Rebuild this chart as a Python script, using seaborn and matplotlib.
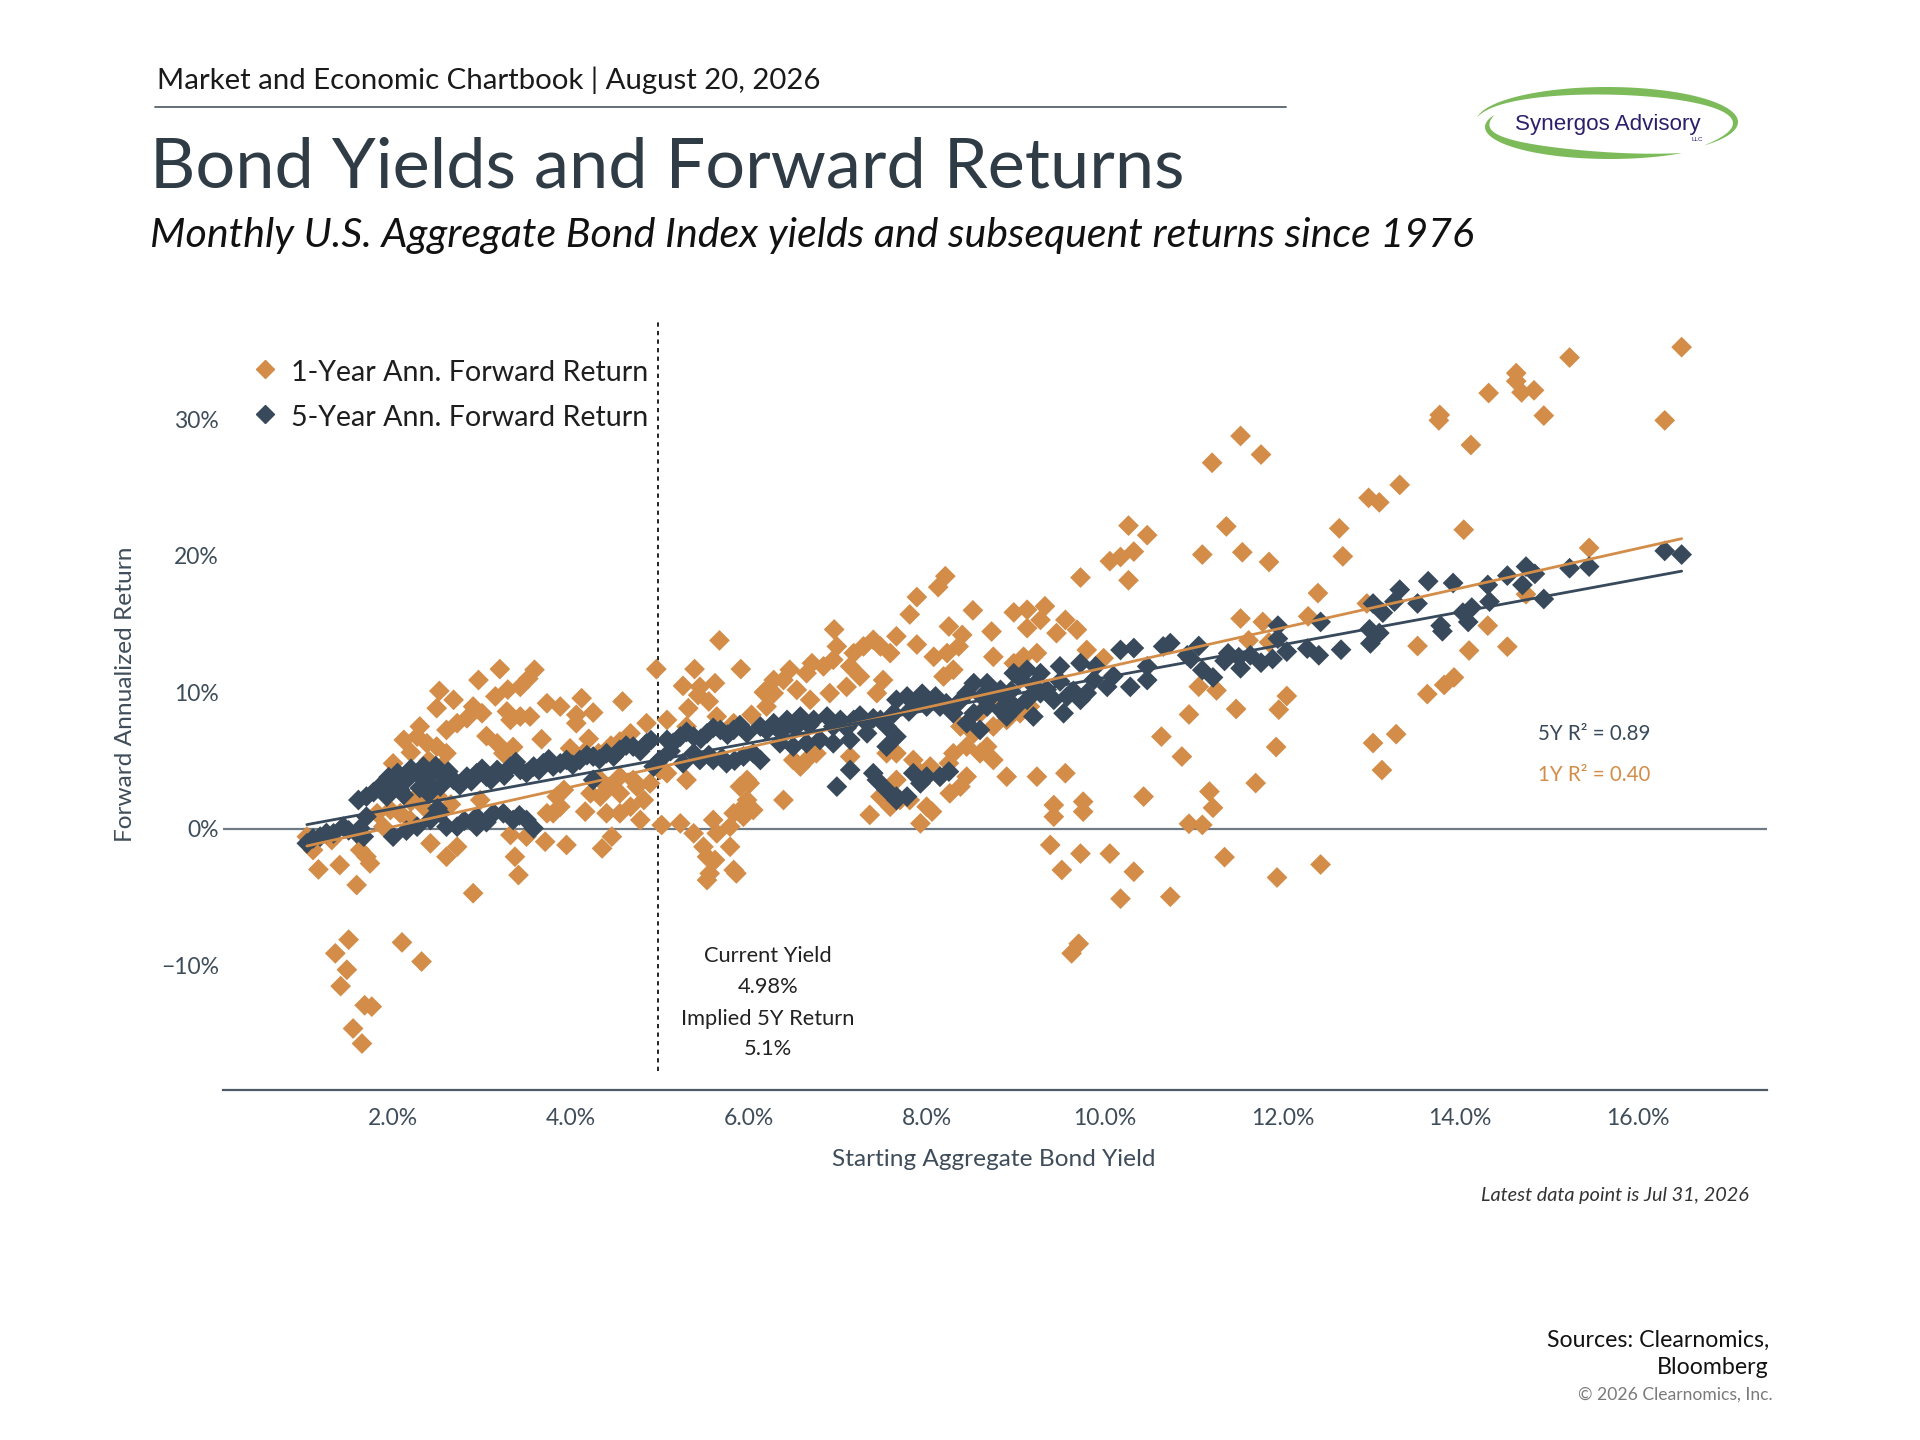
import numpy as np
import pandas as pd
import matplotlib
matplotlib.use("Agg")
import matplotlib.pyplot as plt
import seaborn as sns
from matplotlib.lines import Line2D
from matplotlib.patches import Polygon

# ---------------- DATA ----------------
series_labels = ["1-Year Ann. Forward Return", "5-Year Ann. Forward Return"]

# 1-year forward return, low-yield region (<6%)
yield_1y_a = [5.67, 4.96, 5.39, 5.91, 3.20, 3.59, 2.96, 3.52, 3.43, 3.29,
              2.52, 2.68, 3.15, 3.73, 3.88, 4.12, 4.58, 4.06, 4.25, 4.06,
              5.26, 5.45, 5.62, 5.43, 5.55, 5.32, 2.49, 2.90, 3.00, 2.83,
              2.72, 2.60, 3.28, 3.32, 3.43, 3.54, 2.30, 2.27, 2.12, 2.38,
              2.49, 2.60, 2.00, 3.17, 3.24, 3.67, 3.99, 4.14, 4.31, 4.55,
              4.67, 4.85, 5.08, 5.30, 5.64, 5.83, 6.03, 6.20, 6.17, 6.28,
              4.22, 4.33, 4.44, 4.55, 4.67, 4.74, 4.82, 4.40, 4.55, 4.78,
              4.33, 4.55, 4.70, 4.89, 4.16, 3.88, 3.80, 3.92, 2.98, 5.00,
              5.08, 5.30, 5.23, 5.02, 5.60, 5.38, 5.64, 5.79, 5.83, 5.94,
              5.90, 5.98, 5.49, 5.53, 5.62, 5.56, 5.53, 5.79, 5.83, 5.86,
              4.46, 4.35, 3.95, 3.71, 3.50, 3.32, 3.37, 3.41, 2.90, 2.72,
              2.60, 2.42, 2.19, 2.08, 1.89, 1.82, 1.70, 1.74, 1.63, 1.59,
              1.40, 1.16, 1.10, 1.03, 1.31, 1.50, 1.48, 1.35, 1.41, 2.10,
              2.32, 1.68, 1.76, 1.55, 1.65, 1.97, 3.73, 3.84, 2.08, 2.20,
              2.35, 2.50, 2.65, 2.45, 2.30, 2.40, 2.20, 2.55, 3.05, 3.35,
              4.20, 4.45]
ret_1y_a = [13.8, 11.7, 11.7, 11.7, 11.7, 11.65, 10.9, 11.0, 10.4, 10.2,
            10.1, 9.45, 9.7, 9.2, 8.96, 9.57, 9.33, 8.35, 8.52, 7.74,
            10.47, 10.4, 10.67, 9.8, 9.33, 8.84, 8.84, 8.96, 8.47, 8.10,
            7.74, 7.25, 8.60, 7.98, 8.23, 8.23, 7.50, 6.76, 6.52, 6.27,
            6.03, 5.54, 4.80, 6.27, 5.54, 6.57, 5.90, 5.54, 5.54, 6.40,
            7.00, 7.74, 7.98, 7.50, 8.23, 7.74, 8.35, 8.96, 10.0, 10.9,
            2.61, 2.37, 3.10, 2.61, 1.63, 3.10, 2.12, 1.15, 1.15, 0.66,
            3.59, 3.83, 3.59, 3.34, 1.27, 1.63, 1.15, 2.86, 2.12, 4.32,
            4.08, 3.59, 0.41, 0.29, 0.66, -0.32, -0.32, 0.17, 1.15, 1.63,
            3.10, 3.59, -1.30, -2.03, -2.27, -3.25, -3.74, -1.30, -3.00, -3.25,
            -0.56, -1.42, -1.17, -0.93, -0.56, -0.44, -2.03, -3.37, -4.70, -1.30,
            -2.03, -1.05, 0.66, 1.15, 0.17, 1.15, -2.03, -2.52, -1.54, -4.10,
            -2.64, -2.96, -1.54, -0.56, -0.81, -8.1, -10.3, -9.1, -11.5, -8.3,
            -9.7, -12.9, -13.0, -14.6, -15.7, 1.39, 1.15, 2.37, 3.59, 2.00,
            1.60, 2.40, 1.80, 3.00, 2.60, 5.00, 5.60, 4.60, 6.80, 6.00,
            6.60, 6.10]

# 1-year forward return, mid-yield region (6%-11%)
yield_1y_b = [10.27, 10.48, 10.33, 10.18, 10.06, 10.27, 9.73, 8.21, 8.13, 7.89,
              7.81, 8.52, 8.98, 9.13, 9.33, 9.28, 9.13, 9.56, 9.69, 9.46,
              8.73, 8.25, 8.40, 7.89, 7.66, 6.96, 7.40, 7.48, 7.59, 7.29,
              7.18, 6.99, 6.95, 6.84, 6.71, 6.65, 6.46, 6.39, 6.28, 6.18,
              6.54, 6.69, 6.91, 7.10, 7.14, 7.25, 7.44, 7.51, 8.08, 8.23,
              8.36, 8.19, 8.30, 8.75, 8.98, 9.09, 9.24, 9.80, 9.99, 8.71,
              8.60, 8.75, 8.90, 9.05, 9.16, 8.53, 8.68, 8.45, 8.38, 8.60,
              8.75, 8.90, 9.24, 9.56, 8.30, 8.25, 8.45, 8.38, 8.26, 8.15,
              8.04, 7.85, 7.93, 7.66, 7.66, 7.81, 8.00, 8.06, 7.93, 7.36,
              7.48, 7.59, 7.70, 7.55, 7.14, 6.39, 6.65, 6.58, 6.50, 6.76,
              6.01, 5.98, 6.05, 5.94, 10.44, 10.64, 10.87, 9.43, 9.43, 9.76,
              9.76, 9.39, 9.52, 9.73, 10.06, 10.33, 10.18, 10.74, 9.71, 9.63]
ret_1y_b = [22.2, 21.5, 20.3, 19.9, 19.6, 18.2, 18.4, 18.5, 17.7, 16.97,
            15.7, 16.0, 15.85, 16.04, 16.3, 15.3, 14.7, 15.3, 14.58, 14.33,
            14.45, 14.82, 14.2, 13.5, 14.1, 14.6, 13.84, 13.36, 12.87, 13.36,
            12.87, 13.36, 12.38, 11.90, 12.13, 11.40, 11.65, 10.90, 9.94, 10.06,
            10.18, 9.45, 9.94, 10.40, 11.90, 11.16, 9.94, 10.90, 12.60, 12.87,
            13.36, 11.16, 11.65, 12.60, 12.13, 12.60, 12.87, 13.10, 12.50, 9.20,
            8.47, 7.50, 7.98, 8.47, 8.96, 7.00, 6.03, 6.03, 7.50, 5.54,
            5.05, 3.83, 3.83, 4.08, 5.54, 4.81, 3.83, 3.10, 2.61, 3.83,
            4.57, 5.05, 4.08, 3.59, 5.54, 2.12, 1.63, 1.27, 0.41, 1.03,
            2.37, 1.63, 2.12, 5.54, 5.30, 2.12, 5.05, 4.57, 5.05, 5.54,
            3.34, 2.12, 1.39, 0.90, 2.37, 6.76, 5.30, 1.75, 0.90, 2.00,
            1.27, -1.17, -3.00, -1.80, -1.80, -3.13, -5.10, -4.96, -8.40, -9.10]

# 1-year forward return, high-yield region (>11%)
yield_1y_c = [16.49, 15.23, 14.63, 14.63, 14.69, 14.83, 14.32, 13.77, 13.76, 14.94,
              16.30, 14.12, 11.53, 11.76, 11.21, 13.32, 12.97, 13.09, 11.37, 12.64,
              14.04, 11.10, 11.55, 11.85, 12.68, 15.45, 12.40, 12.95, 11.53, 11.78,
              12.29, 11.62, 11.85, 14.74, 14.31, 13.52, 14.10, 14.53, 13.63, 13.82,
              13.93, 11.06, 11.26, 12.05, 11.96, 11.48, 10.95, 11.93, 13.02, 13.28,
              13.12, 11.70, 11.18, 11.22, 10.95, 11.10, 11.35, 11.94, 12.43]
ret_1y_c = [35.26, 34.50, 33.36, 32.77, 31.95, 32.10, 31.90, 30.30, 29.90, 30.25,
            29.90, 28.10, 28.76, 27.40, 26.80, 25.18, 24.23, 23.90, 22.14, 22.00,
            21.90, 20.08, 20.25, 19.54, 19.95, 20.57, 17.26, 16.50, 15.40, 15.15,
            15.56, 13.80, 13.66, 17.18, 14.88, 13.39, 13.06, 13.34, 9.87, 10.54,
            11.09, 10.41, 10.14, 9.73, 8.73, 8.78, 8.38, 6.00, 6.29, 6.94,
            4.31, 3.36, 2.74, 1.55, 0.38, 0.30, -2.06, -3.55, -2.60]

# 5-year annualized forward return, low-yield region
yield_5y_a = [1.03, 1.18, 1.33, 1.44, 1.59, 1.67, 1.61, 1.70, 1.85, 1.93,
              2.00, 2.08, 2.15, 2.27, 2.34, 2.38, 2.45, 2.53, 2.57, 2.68,
              2.83, 2.94, 3.05, 3.17, 3.32, 3.43, 3.58, 3.69, 3.80, 3.95,
              4.10, 4.25, 4.40, 4.55, 4.70, 4.85, 4.93, 5.00, 5.08, 5.23,
              5.38, 5.53, 5.68, 5.83, 5.26, 5.45, 5.60, 5.75, 5.94, 5.38,
              2.00, 2.15, 2.27, 2.42, 2.53, 2.60, 2.72, 2.94, 2.94, 3.13,
              3.24, 3.35, 3.50, 3.58, 1.70, 1.63, 4.25, 1.78, 1.95, 2.05,
              2.12, 2.20, 2.30, 2.40, 2.48, 2.62, 2.75, 2.88, 3.00, 3.10,
              3.25, 3.38, 3.50, 3.64, 3.75, 3.88, 4.02, 4.18, 4.32, 4.48,
              4.62, 4.78, 4.90, 5.15, 5.30, 5.46, 5.60, 5.76, 5.90, 5.12,
              5.55, 5.70, 5.84, 1.10, 1.25, 1.50, 2.50, 2.80, 3.05, 3.42]
ret_5y_a = [-1.05, -0.56, -0.32, 0.17, -0.32, -0.56, 2.12, 2.37, 3.10, 2.37,
            3.34, 2.86, 3.59, 4.08, 4.57, 3.34, 4.08, 3.10, 3.83, 3.59,
            3.83, 4.08, 3.83, 4.32, 4.57, 4.32, 4.57, 4.81, 4.57, 5.05,
            5.05, 5.30, 5.54, 5.79, 6.03, 6.27, 4.57, 5.05, 6.52, 6.76,
            6.76, 7.00, 7.25, 7.25, 4.81, 5.05, 5.05, 4.81, 5.30, 5.54,
            -0.56, -0.12, 0.17, 0.66, 1.15, 0.17, 0.17, 0.90, 0.17, 1.15,
            1.15, 0.66, 0.66, 0.05, 0.90, 0.05, 3.59, 2.70, 3.80, 4.10,
            2.50, 4.40, 3.00, 2.60, 4.60, 4.20, 3.20, 3.50, 4.40, 3.60,
            3.90, 4.90, 4.10, 4.30, 5.10, 4.80, 4.70, 5.40, 5.10, 5.30,
            6.10, 5.70, 6.50, 6.30, 7.10, 6.60, 7.40, 6.90, 7.60, 5.70,
            5.40, 5.20, 5.00, -0.70, -0.30, -0.10, 1.50, 0.60, 0.50, 1.00]

# 5-year annualized forward return, mid-yield region
yield_5y_b = [6.05, 6.13, 5.98, 6.13, 6.28, 6.43, 6.58, 6.73, 6.88, 7.03,
              7.18, 7.33, 7.48, 7.63, 7.66, 7.78, 7.89, 8.00, 8.15, 8.30,
              8.45, 8.53, 8.68, 8.83, 8.98, 9.13, 9.28, 9.50, 9.73, 9.88,
              10.03, 10.18, 10.33, 10.29, 10.48, 10.48, 10.66, 10.74, 8.53, 8.68,
              8.83, 8.90, 9.13, 9.28, 9.43, 9.58, 9.73, 9.80, 9.20, 9.54,
              8.60, 8.45, 8.90, 6.35, 6.50, 6.65, 6.80, 6.95, 7.14, 7.33,
              7.55, 7.66, 6.99, 7.14, 7.40, 7.44, 7.55, 7.66, 7.66, 7.78,
              7.85, 7.93, 8.00, 8.15, 8.25, 6.20, 6.36, 6.52, 6.68, 6.95,
              7.10, 7.25, 7.40, 7.55, 7.80, 7.95, 8.10, 8.22, 8.38, 8.62,
              8.76, 8.95, 9.05, 9.20, 9.35, 9.50, 9.65, 9.90, 10.10, 9.00]
ret_5y_b = [5.54, 5.05, 7.00, 7.50, 7.74, 7.98, 8.23, 7.98, 8.23, 7.98,
            7.98, 7.74, 7.98, 8.47, 9.45, 9.70, 9.45, 8.96, 8.96, 8.47,
            9.94, 10.67, 10.67, 10.18, 11.40, 11.65, 11.40, 11.90, 12.13, 10.90,
            10.40, 13.10, 13.24, 10.40, 11.90, 10.90, 13.36, 13.60, 8.47, 8.96,
            8.72, 9.45, 9.45, 9.94, 9.45, 9.70, 9.45, 9.94, 8.23, 8.47,
            7.25, 7.74, 8.23, 6.27, 6.03, 6.27, 6.52, 6.27, 6.52, 7.00,
            6.03, 6.76, 3.10, 4.32, 4.08, 3.59, 2.86, 2.37, 2.12, 2.37,
            4.08, 3.34, 3.83, 3.83, 4.20, 7.20, 7.10, 7.40, 7.60, 7.50,
            7.40, 8.30, 8.10, 7.50, 8.60, 9.90, 9.70, 9.20, 9.40, 9.70,
            9.90, 10.10, 11.00, 10.50, 10.20, 10.80, 10.10, 11.90, 11.20, 8.90]

# 5-year annualized forward return, high-yield region
yield_5y_c = [16.49, 16.30, 15.45, 15.23, 14.74, 14.84, 14.53, 14.70, 14.31, 14.94,
              14.33, 13.64, 13.92, 13.32, 13.26, 13.52, 13.02, 13.13, 12.98, 13.09,
              12.99, 13.78, 13.80, 14.03, 14.13, 14.09, 12.66, 12.41, 12.28, 12.43,
              11.95, 11.95, 12.05, 11.89, 11.76, 11.64, 11.53, 11.51, 11.39, 11.35,
              11.22, 11.10, 10.97, 11.06, 10.93]
ret_5y_c = [20.08, 20.35, 19.20, 19.08, 19.20, 18.67, 18.54, 17.86, 17.86, 16.83,
            16.64, 18.13, 18.00, 17.51, 16.64, 16.50, 16.50, 15.83, 14.61, 14.34,
            13.58, 14.88, 14.47, 15.83, 16.20, 15.15, 13.12, 12.71, 13.20, 15.15,
            14.88, 13.93, 12.98, 12.44, 12.17, 12.71, 11.76, 12.57, 12.85, 12.30,
            11.09, 11.63, 12.44, 13.39, 12.71]

x_ticks = [2, 4, 6, 8, 10, 12, 14, 16]
x_tick_labels = ["2.0%", "4.0%", "6.0%", "8.0%", "10.0%", "12.0%", "14.0%", "16.0%"]
y_ticks = [-10, 0, 10, 20, 30]
y_tick_labels = ["\u221210%", "0%", "10%", "20%", "30%"]

current_yield = 4.98
implied_5y = 5.1
r2_5y = 0.89
r2_1y = 0.40

# ---------------- STYLE ----------------
sns.set_style("white")
plt.rcParams["font.family"] = ["Lato", "DejaVu Sans"]

ORANGE = "#D38D48"
SLATE = "#37495A"
TXT = "#3F4D5A"

W, H = 1920, 1440
fig = plt.figure(figsize=(19.2, 14.4), dpi=100)
fig.patch.set_facecolor("white")


def fx(px):
    return px / W


def fy(py):
    return 1 - py / H


ax = fig.add_axes([fx(223), fy(1090), fx(1767) - fx(223), fy(322) - fy(1090)])

yield_1y = yield_1y_a + yield_1y_b + yield_1y_c
ret_1y = ret_1y_a + ret_1y_b + ret_1y_c
yield_5y = yield_5y_a + yield_5y_b + yield_5y_c
ret_5y = ret_5y_a + ret_5y_b + ret_5y_c

df = pd.DataFrame({
    "yield": yield_1y + yield_5y,
    "ret": ret_1y + ret_5y,
    "series": [series_labels[0]] * len(yield_1y) + [series_labels[1]] * len(yield_5y),
})

ax.axhline(0, color="#6F7A84", lw=1.6, zorder=1)
ax.vlines(current_yield, -17.7, 37.1, colors="#222222",
          linestyles=(0, (2.2, 2.2)), lw=1.4, zorder=2)

sns.scatterplot(data=df, x="yield", y="ret", hue="series", hue_order=series_labels,
                palette=[ORANGE, SLATE], marker="D", s=112, linewidth=0,
                legend=False, ax=ax, zorder=3)

for xs, ys, c in [(yield_1y, ret_1y, ORANGE), (yield_5y, ret_5y, SLATE)]:
    sns.regplot(x=np.array(xs), y=np.array(ys), scatter=False, ci=None,
                truncate=True, color=c, line_kws=dict(lw=2.0, zorder=4), ax=ax)

ax.set_xlim(0.087, 17.45)
ax.set_ylim(-19.1, 37.1)
ax.set_xlabel("")
ax.set_ylabel("")
for s in ["top", "right", "left"]:
    ax.spines[s].set_visible(False)
ax.spines["bottom"].set_color("#4E5A65")
ax.spines["bottom"].set_linewidth(1.6)
ax.set_xticks(x_ticks, x_tick_labels)
ax.set_yticks(y_ticks, y_tick_labels)
ax.tick_params(axis="both", length=0, labelsize=16.5, labelcolor=TXT)
ax.tick_params(axis="x", pad=13)
ax.tick_params(axis="y", pad=3)
ax.grid(False)

renderer = fig.canvas.get_renderer()


def fit(t, target, vertical=False):
    bb = t.get_window_extent(renderer=renderer)
    w = bb.height if vertical else bb.width
    t.set_fontsize(t.get_fontsize() * target / w)
    return t


# ---------------- HEADER ----------------
hdr = fig.text(fx(157), fy(89), "Market and Economic Chartbook | August 20, 2026",
               fontsize=20, color="#1A1A1A", ha="left", va="baseline")
fit(hdr, 665)
fig.add_artist(Line2D([fx(155), fx(1286)], [fy(107), fy(107)], color="#56626C", lw=1.3))
ttl = fig.text(fx(150), fy(187), "Bond Yields and Forward Returns",
               fontsize=50, color="#2F3B45", ha="left", va="baseline")
fit(ttl, 1034)
sub = fig.text(fx(150), fy(247),
               "Monthly U.S. Aggregate Bond Index yields and subsequent returns since 1976",
               fontsize=26, style="italic", color="#111111", ha="left", va="baseline")
fit(sub, 1326)

# ---------------- LOGO ----------------
lax = fig.add_axes([fx(1460), fy(180), 330 / W, 110 / H])
lax.set_xlim(0, 330)
lax.set_ylim(110, 0)
lax.axis("off")


def swoosh(cx, cy, a, b, t0, t1, tmax):
    th = np.radians(np.linspace(t0, t1, 160))
    u = np.linspace(0, 1, 160)
    thick = tmax * np.sin(np.pi * u) ** 0.8
    outer = np.c_[cx + a * np.cos(th), cy - b * np.sin(th)]
    inner = np.c_[cx + (a - thick) * np.cos(th), cy - (b - thick) * np.sin(th)]
    return Polygon(np.vstack([outer, inner[::-1]]), closed=True,
                   facecolor="#7DBB5A", edgecolor="none")


lax.add_patch(swoosh(147, 52, 131, 35, 172, -42, 8))
lax.add_patch(swoosh(150, 57, 125, 32, 158, 305, 9))
lt = lax.text(55, 60, "Synergos Advisory", fontsize=16, color="#2D1E6B",
              family=["Liberation Sans", "DejaVu Sans"], ha="left", va="baseline")
fit(lt, 185)
lax.text(231, 71, "LLC", fontsize=4.5, color="#2D1E6B",
         family=["Liberation Sans", "DejaVu Sans"], ha="left", va="baseline")

# ---------------- LEGEND ----------------
for i, (lab, col) in enumerate(zip(series_labels, [ORANGE, SLATE])):
    ym = 369 + 45 * i
    fig.add_artist(Line2D([fx(264.6)], [fy(ym)], marker="D", ms=9.5, color=col, ls="none"))
    lt2 = fig.text(fx(291), fy(ym + 12), lab, fontsize=17, color="#1E1E1E",
                   ha="left", va="baseline")
    fit(lt2, 356)

# ---------------- AXIS LABELS ----------------
yl = fig.text(fx(126), fy(694), "Forward Annualized Return", rotation=90,
              fontsize=16, color=TXT, ha="center", va="center")
fit(yl, 296, vertical=True)
xl = fig.text(fx(994), fy(1160), "Starting Aggregate Bond Yield",
              fontsize=16, color=TXT, ha="center", va="center")
fit(xl, 324)

# ---------------- ANNOTATIONS ----------------
ann_lines = ["Current Yield", f"{current_yield:.2f}%", "Implied 5Y Return", f"{implied_5y:.1f}%"]
ann_y = [956, 987, 1019, 1049]
ref = fig.text(fx(768), fy(ann_y[2]), ann_lines[2], fontsize=15, color="#222222",
               ha="center", va="center")
fit(ref, 174)
fs_ann = ref.get_fontsize()
for i in [0, 1, 3]:
    fig.text(fx(768), fy(ann_y[i]), ann_lines[i], fontsize=fs_ann, color="#222222",
             ha="center", va="center")

r5 = fig.text(fx(1538), fy(734), f"5Y R\u00b2 = {r2_5y:.2f}", fontsize=15,
              color=SLATE, ha="left", va="center")
fit(r5, 113)
fig.text(fx(1538), fy(775), f"1Y R\u00b2 = {r2_1y:.2f}", fontsize=r5.get_fontsize(),
         color=ORANGE, ha="left", va="center")

# ---------------- FOOTER ----------------
ld = fig.text(fx(1749), fy(1195), "Latest data point is Jul 31, 2026", style="italic",
              fontsize=14, color="#333333", ha="right", va="center")
fit(ld, 269)
s1 = fig.text(fx(1769), fy(1340), "Sources: Clearnomics,", fontsize=15,
              color="#111111", ha="right", va="center")
fit(s1, 222)
fig.text(fx(1769), fy(1367), "Bloomberg", fontsize=s1.get_fontsize(),
         color="#111111", ha="right", va="center")
cp = fig.text(fx(1773), fy(1395), "\u00a9 2026 Clearnomics, Inc.", fontsize=12,
              color="#7A7A7A", ha="right", va="center")
fit(cp, 193)

fig.savefig("out.png", dpi=100, facecolor="white")
